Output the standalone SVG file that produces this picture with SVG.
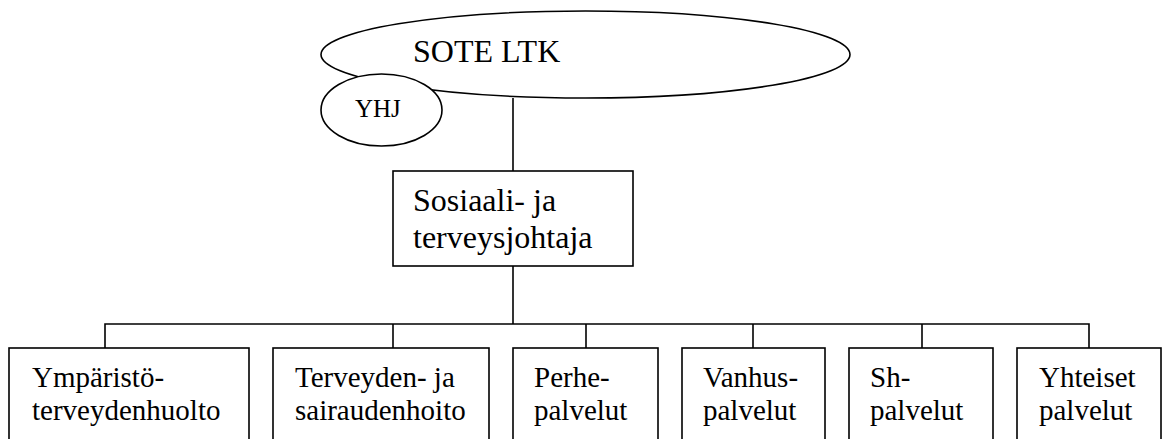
<svg xmlns="http://www.w3.org/2000/svg" width="1164" height="439" viewBox="0 0 1164 439">
<style>
.s{fill:#fff;stroke:#000;stroke-width:1.6}
.c{fill:none;stroke:#000;stroke-width:1.6}
text{font-family:'Liberation Serif','Times New Roman',serif;fill:#000}
.b{font-size:29px}
</style>
<rect width="1164" height="439" fill="#fff"/>
<g id="connectors">
<line class="c" x1="513" y1="98" x2="513" y2="171"/>
<line class="c" x1="513" y1="266" x2="513" y2="324"/>
<polyline class="c" points="105,348 105,324 1089,324 1089,348"/>
<line class="c" x1="393" y1="324" x2="393" y2="348"/>
<line class="c" x1="586" y1="324" x2="586" y2="348"/>
<line class="c" x1="753" y1="324" x2="753" y2="348"/>
<line class="c" x1="922" y1="324" x2="922" y2="348"/>
</g>
<g id="sote">
<ellipse class="s" cx="585.5" cy="54.5" rx="264.5" ry="43.5"/>
<text style="font-family:'Liberation Serif',serif" x="413" y="62" font-size="32">SOTE LTK</text>
</g>
<g id="yhj">
<ellipse class="s" cx="381.5" cy="110" rx="60.5" ry="36"/>
<text style="font-family:'Liberation Serif',serif" x="355" y="117" font-size="25">YHJ</text>
</g>
<g id="johtaja">
<rect class="s" x="393" y="171" width="240" height="95"/>
<text style="font-family:'Liberation Serif',serif" x="413" y="211" font-size="32">Sosiaali- ja</text>
<text style="font-family:'Liberation Serif',serif" x="413" y="248" font-size="32">terveysjohtaja</text>
</g>
<g id="ymparisto">
<rect class="s" x="9" y="348" width="240" height="100"/>
<text class="b" style="font-family:'Liberation Serif',serif" x="32" y="387">Ympäristö-</text>
<text class="b" style="font-family:'Liberation Serif',serif" x="32" y="420">terveydenhuolto</text>
</g>
<g id="terveyden">
<rect class="s" x="273" y="348" width="216" height="100"/>
<text class="b" style="font-family:'Liberation Serif',serif" x="295" y="387">Terveyden- ja</text>
<text class="b" style="font-family:'Liberation Serif',serif" x="295" y="420">sairaudenhoito</text>
</g>
<g id="perhe">
<rect class="s" x="513" y="348" width="145" height="100"/>
<text class="b" style="font-family:'Liberation Serif',serif" x="534" y="387">Perhe-</text>
<text class="b" style="font-family:'Liberation Serif',serif" x="534" y="420">palvelut</text>
</g>
<g id="vanhus">
<rect class="s" x="682" y="348" width="143" height="100"/>
<text class="b" style="font-family:'Liberation Serif',serif" x="703" y="387">Vanhus-</text>
<text class="b" style="font-family:'Liberation Serif',serif" x="703" y="420">palvelut</text>
</g>
<g id="sh">
<rect class="s" x="849" y="348" width="144" height="100"/>
<text class="b" style="font-family:'Liberation Serif',serif" x="870" y="387">Sh-</text>
<text class="b" style="font-family:'Liberation Serif',serif" x="870" y="420">palvelut</text>
</g>
<g id="yhteiset">
<rect class="s" x="1017" y="348" width="144" height="100"/>
<text class="b" style="font-family:'Liberation Serif',serif" x="1039" y="387">Yhteiset</text>
<text class="b" style="font-family:'Liberation Serif',serif" x="1039" y="420">palvelut</text>
</g>
</svg>
